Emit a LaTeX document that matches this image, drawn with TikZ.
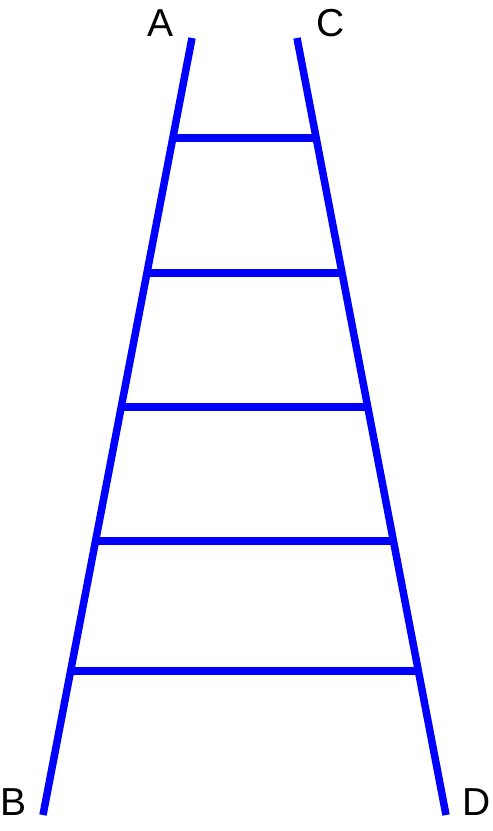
\documentclass[tikz,border=0pt]{standalone}
\usepackage{fontspec}
\setmainfont{Liberation Sans}
\usetikzlibrary{calc}

\begin{document}
\begin{tikzpicture}[x=1pt, y=-1pt, rail/.style={draw=blue, line width=7.5pt}, lbl/.style={inner sep=0pt, font=\fontsize{39}{42}\selectfont}]
    \useasboundingbox (0, 0) rectangle (493, 831);
    \coordinate (a) at (192, 38);
    \coordinate (b) at (43, 815);    \coordinate (c) at (297, 38);
	\coordinate (d) at (446, 815);
	\node[lbl] (la) at (161, 23.5) {A};
	\node[lbl] (lc) at (331, 23.5) {C};
	\node[lbl] (lb) at (14, 802) {B};
	\node[lbl] (ld) at (477, 802) {D};
	\draw[rail] (a) -- (b);
	\draw[rail] (c) -- (d);
	\foreach \t in {0.1287, 0.3024, 0.4749, 0.6474, 0.8147}
	    \draw[rail] ($(a)!\t!(b)$) -- ($(c)!\t!(d)$);
\end{tikzpicture}
\end{document}
